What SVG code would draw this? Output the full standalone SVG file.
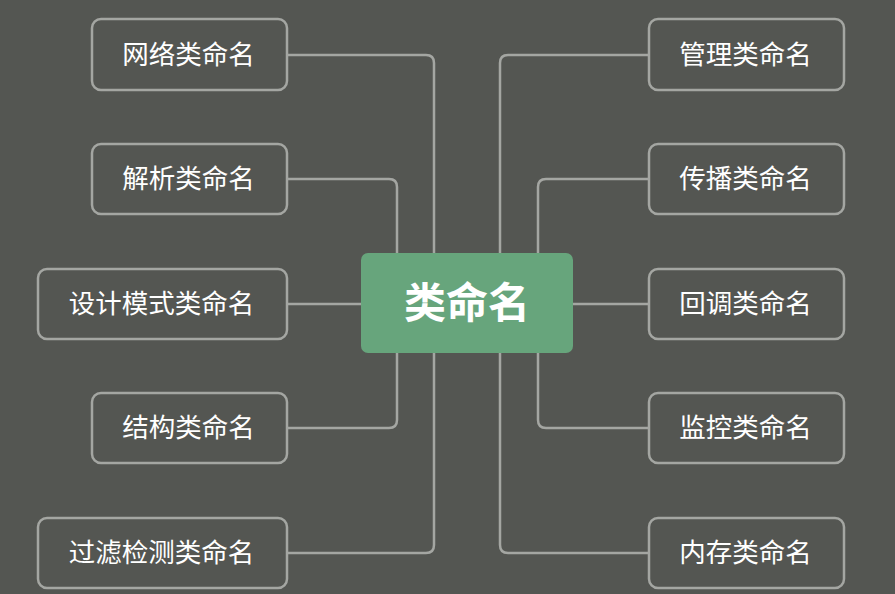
<svg xmlns="http://www.w3.org/2000/svg" width="895" height="594" viewBox="0 0 895 594">
<style>
.node rect{fill:#545652;stroke:#a4a6a2;stroke-width:2.5}
.node text{font-family:"Noto Sans CJK SC","Noto Sans",sans-serif;font-size:26.5px;fill:#ffffff;text-anchor:middle}
.conn path{fill:none;stroke:#a4a6a2;stroke-width:2.5}
</style>
<rect x="0" y="0" width="895" height="594" fill="#545652"/>
<g class="conn">
<path d="M287,55 H426 Q434,55 434,63 V253"/>
<path d="M287,179 H389 Q397,179 397,187 V253"/>
<path d="M287,304 H361"/>
<path d="M287,428 H389 Q397,428 397,420 V353"/>
<path d="M287,553 H426 Q434,553 434,545 V353"/>
<path d="M649,55 H508 Q500,55 500,63 V253"/>
<path d="M649,179 H546 Q538,179 538,187 V253"/>
<path d="M573,304 H649"/>
<path d="M649,428 H546 Q538,428 538,420 V353"/>
<path d="M649,553 H508 Q500,553 500,545 V353"/>
</g>
<g id="center">
<rect x="361" y="253" width="212" height="100" rx="7" fill="#67a57c"/>
<text x="467" y="318" font-family="'Noto Sans CJK SC','Noto Sans',sans-serif" font-size="42" font-weight="bold" fill="#ffffff" text-anchor="middle">类命名</text>
</g>
<g id="n1" class="node"><rect x="92" y="19" width="195" height="71" rx="9"/><text x="188.5" y="64">网络类命名</text></g>
<g id="n2" class="node"><rect x="92" y="144" width="195" height="70" rx="9"/><text x="188.5" y="188">解析类命名</text></g>
<g id="n3" class="node"><rect x="38" y="269" width="249" height="70" rx="9"/><text x="161.5" y="313">设计模式类命名</text></g>
<g id="n4" class="node"><rect x="92" y="393" width="195" height="70" rx="9"/><text x="188.5" y="437">结构类命名</text></g>
<g id="n5" class="node"><rect x="38" y="518" width="249" height="70" rx="9"/><text x="161.5" y="562">过滤检测类命名</text></g>
<g id="n6" class="node"><rect x="649" y="19" width="195" height="71" rx="9"/><text x="745.5" y="64">管理类命名</text></g>
<g id="n7" class="node"><rect x="649" y="144" width="195" height="70" rx="9"/><text x="745.5" y="188">传播类命名</text></g>
<g id="n8" class="node"><rect x="649" y="269" width="195" height="70" rx="9"/><text x="745.5" y="313">回调类命名</text></g>
<g id="n9" class="node"><rect x="649" y="393" width="195" height="70" rx="9"/><text x="745.5" y="437">监控类命名</text></g>
<g id="n10" class="node"><rect x="649" y="518" width="195" height="70" rx="9"/><text x="745.5" y="562">内存类命名</text></g>
</svg>
